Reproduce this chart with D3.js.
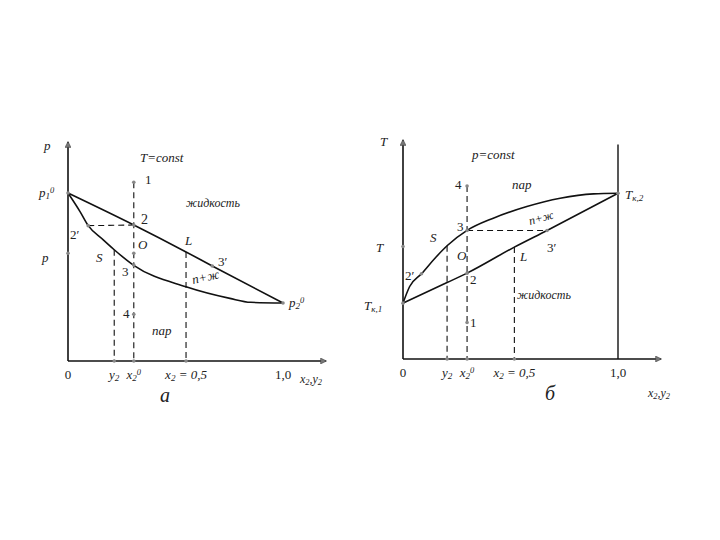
<!DOCTYPE html>
<html><head><meta charset="utf-8">
<script src="https://cdn.jsdelivr.net/npm/d3@7"></script>
<style>body{margin:0;background:#fff}svg{display:block}text{font-family:"Liberation Serif","DejaVu Serif",serif;fill:#222}</style>
</head><body><svg id="c" width="720" height="540"></svg>
<script>
// ---- data (composition fraction x2, relative p or T on 0..1) ----
// Chart a: p–x diagram at T=const
const aTicks = [{x:0, t:[["0"]]},{x:0.215,t:[["y"],["2","sub"]]},{x:0.306,t:[["x"],["2","sub"],["0","sup"]]},{x:0.549,t:[["x"],["2","sub"],[" = 0,5"]]},{x:1,t:[["1,0"]]}];
const aLiquid = [[0,0.767],[0.306,0.621],[0.549,0.498],[0.671,0.434],[1,0.265]];
const aVapor  = [[0,0.767],[0.056,0.682],[0.094,0.618],[0.164,0.553],[0.215,0.508],[0.304,0.438],[0.549,0.339],[0.753,0.286],[0.85,0.268],[1,0.265]];
const aDots   = [[0.306,0.816],[0.306,0.621],[0.094,0.618],[0.306,0.492],[0.306,0.438],[0,0.492],[0.306,0.213],[0.671,0.434],[0,0.767],[1,0.265],[0.215,0],[0.306,0],[0.549,0]];
// Chart б: T–x diagram at p=const
const bTicks = [{x:0, t:[["0"]]},{x:0.205,t:[["y"],["2","sub"]]},{x:0.298,t:[["x"],["2","sub"],["0","sup"]]},{x:0.518,t:[["x"],["2","sub"],[" = 0,5"]]},{x:1,t:[["1,0"]]}];
const bLiquid = [[0,0.255],[0.205,0.349],[0.298,0.392],[0.518,0.511],[0.670,0.587],[1,0.757]];
const bVapor  = [[0,0.255],[0.031,0.331],[0.086,0.389],[0.156,0.468],[0.205,0.517],[0.298,0.587],[0.420,0.643],[0.576,0.696],[0.731,0.734],[0.886,0.754],[1,0.757]];
const bDots   = [[0.298,0.790],[0.298,0.587],[0.670,0.587],[0.298,0.392],[0.298,0.167],[0,0.514],[0.086,0.389],[0,0.255],[1,0.757],[0.205,0],[0.298,0],[0.518,0]];

const svg = d3.select("#c");
svg.append("rect").attr("width",720).attr("height",540).attr("fill","#fff");

function rich(g, x, y, parts, opt={}) {
  const t = g.append("text").attr("x",x).attr("y",y)
    .attr("font-size", opt.size||13).attr("font-style", opt.italic===false?"normal":"italic")
    .attr("text-anchor", opt.anchor||"start");
  if (opt.rotate) t.attr("transform",`rotate(${opt.rotate},${x},${y})`);
  parts.forEach(p => {
    const s = t.append("tspan").text(p[0]);
    if (p[1]==="sub") s.attr("font-size",(opt.size||13)*0.7).attr("baseline-shift","-25%");
    if (p[1]==="sup") s.attr("font-size",(opt.size||13)*0.65).attr("baseline-shift","55%");
  });
  return t;
}

function panel(cfg) {
  const g = svg.append("g");
  const x = d3.scaleLinear().domain([0,1]).range(cfg.xr);
  const y = d3.scaleLinear().domain([0,1]).range(cfg.yr);
  const defsId = "arr"+cfg.id;
  svg.append("defs").append("marker").attr("id",defsId).attr("viewBox","0 0 10 10")
    .attr("refX",9).attr("refY",5).attr("markerWidth",9).attr("markerHeight",6).attr("orient","auto-start-reverse")
    .attr("markerUnits","userSpaceOnUse")
    .append("path").attr("d","M0,0L10,5L0,10z").attr("fill","#777").attr("stroke","#333").attr("stroke-width",0.8);
  // axes
  g.append("line").attr("x1",x(0)).attr("y1",y(0)).attr("x2",x(0)).attr("y2",y(1))
    .attr("stroke","#111").attr("stroke-width",1.6).attr("marker-end",`url(#${defsId})`);
  g.append("line").attr("x1",x(0)).attr("y1",y(0)).attr("x2",x(1.2)).attr("y2",y(0))
    .attr("stroke","#111").attr("stroke-width",1.6).attr("marker-end",`url(#${defsId})`);
  if (cfg.rightLine) g.append("line").attr("x1",x(1)).attr("y1",y(0)).attr("x2",x(1)).attr("y2",y(0.98))
    .attr("stroke","#111").attr("stroke-width",1.4);
  // dashed
  cfg.dashes.forEach(d => g.append("line").attr("x1",x(d[0])).attr("y1",y(d[1])).attr("x2",x(d[2])).attr("y2",y(d[3]))
    .attr("stroke","#111").attr("stroke-width",1.1).attr("stroke-dasharray","6,4"));
  // curves
  const line = d3.line().x(d=>x(d[0])).y(d=>y(d[1])).curve(d3.curveMonotoneX);
  [cfg.liquid, cfg.vapor].forEach(c => g.append("path").attr("d",line(c)).attr("fill","none")
    .attr("stroke","#111").attr("stroke-width",1.6));
  // dots
  g.selectAll(null).data(cfg.dots).join("circle").attr("cx",d=>x(d[0])).attr("cy",d=>y(d[1])).attr("r",1.8).attr("fill","#888");
  // ticks labels
  cfg.ticks.forEach(t => rich(g, x(t.x), y(0)+18, t.t, {anchor:"middle", italic: t.t.length>1}));
  cfg.labels.forEach(l => rich(g, l[0], l[1], l[2], l[3]||{}));
  return {x,y};
}

panel({id:"a", xr:[68,283], yr:[361,142], liquid:aLiquid, vapor:aVapor, dots:aDots, ticks:aTicks,
  dashes:[[0.306,0.816,0.306,0],[0.094,0.618,0.306,0.621],[0.215,0.508,0.215,0],[0.549,0.498,0.549,0]],
  labels:[
    [44,150,[["p"]]],
    [140,162,[["T=const"]]],
    [145,184,[["1"]],{italic:false}],
    [39,197,[["p"],["1","sub"],["0","sup"]]],
    [186,207,[["жидкость"]],{size:12}],
    [141,224,[["2"]],{italic:false,size:14}],
    [70,239,[["2"],["′"]],{italic:false}],
    [138,249,[["O"]]],
    [185,245,[["L"]]],
    [218,266,[["3"],["′"]],{italic:false}],
    [42,262,[["p"]]],
    [96,262,[["S"]]],
    [122,276,[["3"]],{italic:false}],
    [193,284,[["п+ж"]],{rotate:-12}],
    [289,307,[["p"],["2","sub"],["0","sup"]]],
    [123,318,[["4"]],{italic:false}],
    [152,335,[["пар"]]],
    [300,383,[["x"],["2","sub"],[",y"],["2","sub"]],{size:12}],
    [160,402,[["а"]],{size:20}]
  ]});

panel({id:"b", xr:[403,618], yr:[359,140], liquid:bLiquid, vapor:bVapor, dots:bDots, ticks:bTicks, rightLine:true,
  dashes:[[0.298,0.790,0.298,0],[0.298,0.587,0.670,0.587],[0.205,0.517,0.205,0],[0.518,0.511,0.518,0]],
  labels:[
    [380,146,[["T"]]],
    [472,159,[["p=const"]]],
    [455,189,[["4"]],{italic:false}],
    [512,189,[["пар"]]],
    [625,199,[["T"],["к,2","sub"]]],
    [530,225,[["п+ж"]],{rotate:-15,size:12}],
    [457,231,[["3"]],{italic:false}],
    [430,242,[["S"]]],
    [376,252,[["T"]]],
    [457,260,[["O"]]],
    [520,261,[["L"]]],
    [547,252,[["3"],["′"]],{italic:false}],
    [405,280,[["2"],["′"]],{italic:false}],
    [470,284,[["2"]],{italic:false}],
    [517,299,[["жидкость"]],{size:12}],
    [364,310,[["T"],["к,1","sub"]]],
    [470,327,[["1"]],{italic:false}],
    [648,397,[["x"],["2","sub"],[",y"],["2","sub"]],{size:12}],
    [545,400,[["б"]],{size:20}]
  ]});
</script></body></html>
